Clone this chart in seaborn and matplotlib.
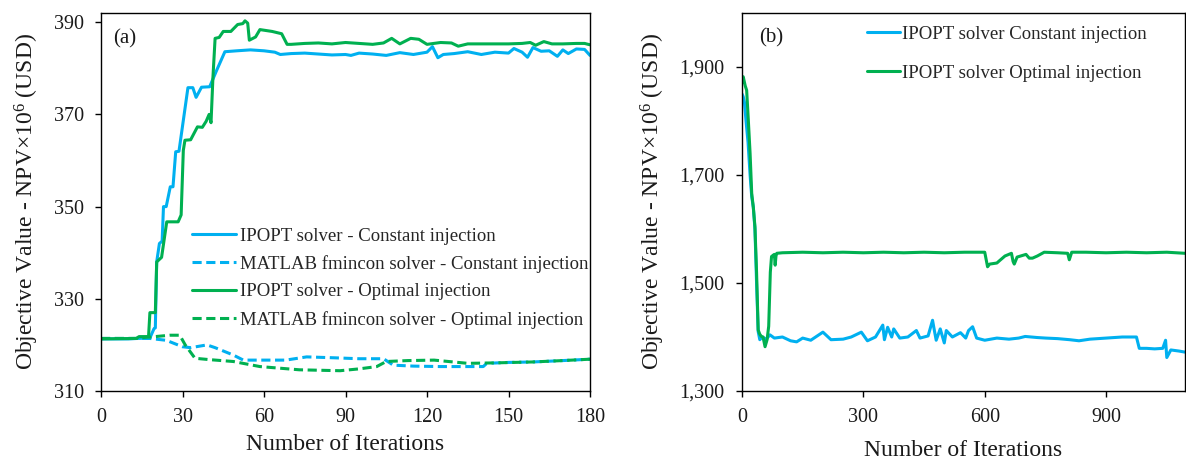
import matplotlib
matplotlib.use("Agg")
import matplotlib.pyplot as plt
import matplotlib.ticker as mticker
import seaborn as sns

# ---------------- data: panel (a) ----------------
a_ipopt_const_it = [0, 10, 17, 18, 19.5, 20, 20.5, 21.5, 22.5, 23, 24, 25.5, 26.5, 27.5, 28.7, 32,
                    33.8, 35, 37, 40, 42.6, 45.6, 50, 55, 60, 64, 66, 70, 75, 80, 85, 90, 92, 95,
                    100, 105, 110, 115, 120, 122, 124, 126, 130, 135, 140, 145, 150, 152, 155,
                    157, 159, 162, 165, 168, 170, 172, 175, 178, 180]
a_ipopt_const_v = [321.3, 321.3, 321.5, 321.5, 323.5, 323.7, 338.0, 342.0, 342.5, 350.0, 350.0,
                   354.3, 354.3, 361.9, 362.0, 375.8, 375.8, 373.7, 375.9, 376.0, 379.6, 383.6,
                   383.8, 384.0, 383.8, 383.5, 383.0, 383.2, 383.3, 383.1, 382.9, 383.0, 382.8,
                   383.3, 383.1, 382.8, 383.4, 383.0, 383.5, 384.7, 382.3, 383.0, 383.2, 383.6,
                   383.0, 383.5, 383.3, 384.3, 383.5, 382.4, 384.5, 383.7, 383.8, 382.6, 384.0,
                   383.2, 384.2, 384.1, 382.8]

a_fmincon_const_it = [0, 10, 18, 24, 30, 33, 36, 39, 42, 48.7, 52.4, 60, 68, 75.7, 86, 95, 104,
                      107.6, 115, 125, 140.7, 142, 150, 159, 170, 180]
a_fmincon_const_v = [321.4, 321.4, 321.4, 321.0, 319.6, 319.4, 319.7, 320.0, 319.4, 317.8, 316.7,
                     316.7, 316.7, 317.4, 317.2, 317.0, 317.0, 315.6, 315.4, 315.3, 315.3, 316.0,
                     316.2, 316.3, 316.6, 316.9]

a_ipopt_opt_it = [0, 13, 14, 17.5, 18, 20, 20.5, 22.3, 24.2, 28.4, 29.5, 30.3, 30.9, 33, 35.5,
                  37.3, 38.7, 39.8, 40.5, 41.2, 42, 43.5, 45, 47.8, 50.3, 52.2, 53, 54, 54.6, 56.9,
                  58.5, 63, 66.5, 68.5, 70, 75, 80, 85, 90, 95, 100, 104, 107, 110, 114, 117, 120,
                  125, 129, 131.5, 135, 140, 145, 150, 155, 158, 160, 163, 166, 170, 175, 178, 180]
a_ipopt_opt_v = [321.3, 321.4, 321.8, 321.8, 327.0, 327.0, 338.0, 339.0, 346.7, 346.7, 348.2,
                 362.2, 364.4, 364.5, 367.3, 367.2, 368.5, 370.0, 368.2, 378.0, 386.5, 386.7,
                 388.0, 388.0, 389.5, 389.7, 390.3, 389.8, 386.1, 386.8, 388.4, 388.0, 387.5,
                 385.2, 385.2, 385.4, 385.5, 385.3, 385.6, 385.4, 385.2, 385.5, 386.5, 385.3,
                 386.5, 386.3, 385.2, 385.6, 385.5, 384.8, 385.3, 385.3, 385.3, 385.3, 385.4,
                 385.6, 385.0, 385.8, 385.3, 385.3, 385.4, 385.4, 385.1]

a_fmincon_opt_it = [0, 13, 17, 18, 25.4, 29, 31, 34.6, 40, 48.7, 58.5, 73, 88, 95, 101.5, 105,
                    113, 122.6, 135, 145, 159, 170, 180]
a_fmincon_opt_v = [321.4, 321.4, 321.7, 321.7, 322.1, 322.1, 320.0, 317.1, 316.8, 316.4, 315.3,
                   314.6, 314.4, 314.8, 315.3, 316.4, 316.6, 316.7, 316.0, 316.1, 316.3, 316.6,
                   316.9]

# ---------------- data: panel (b) ----------------
b_const_it = [0, 3, 6, 10, 15, 20, 24, 28, 32, 36, 40, 44, 50, 55, 60, 69, 80, 100, 120, 135, 150,
              170, 200, 220, 250, 270, 295, 310, 330, 348, 352, 360, 370, 375, 390, 410, 431, 440,
              460, 471, 476, 480, 490, 500, 505, 520, 540, 553, 560, 570, 580, 600, 630, 660, 684,
              700, 730, 751, 780, 810, 833, 860, 900, 940, 965, 975, 982, 1000, 1020, 1040, 1047,
              1050, 1060, 1080, 1095]
b_const_v = [1850, 1845, 1835, 1800, 1760, 1700, 1660, 1640, 1600, 1500, 1410, 1395, 1400, 1398,
             1396, 1404, 1398, 1400, 1393, 1391, 1398, 1394, 1409, 1395, 1396, 1400, 1409, 1393,
             1400, 1422, 1395, 1418, 1400, 1415, 1398, 1400, 1412, 1398, 1402, 1431, 1410, 1394,
             1415, 1389, 1412, 1400, 1408, 1398, 1412, 1419, 1398, 1394, 1398, 1396, 1398, 1401,
             1399, 1398, 1397, 1395, 1393, 1396, 1398, 1400, 1400, 1400, 1379, 1379, 1378, 1379,
             1394, 1362, 1376, 1374, 1372]

b_opt_it = [0, 3, 8, 11.5, 15.6, 20, 24, 28, 32, 36, 40, 44, 48, 52, 57, 62, 66, 70, 73, 78, 80,
            82, 84, 86, 100, 150, 200, 250, 300, 350, 400, 450, 500, 550, 600, 607, 612, 630, 636,
            650, 666, 670, 673, 680, 702, 710, 718, 730, 747, 780, 805, 809, 815, 850, 900, 950,
            1000, 1050, 1095]
b_opt_v = [1870, 1882, 1865, 1857, 1802, 1740, 1666, 1640, 1604, 1520, 1413, 1405, 1401, 1400,
           1382, 1395, 1420, 1520, 1549, 1552, 1553, 1533, 1550, 1555, 1556, 1557, 1556, 1557,
           1556, 1557, 1556, 1557, 1556, 1557, 1557, 1530, 1535, 1537, 1541, 1550, 1555, 1540,
           1535, 1548, 1553, 1546, 1546, 1550, 1557, 1556, 1555, 1543, 1557, 1557, 1556, 1557,
           1556, 1557, 1555]

a_yticks = [310, 330, 350, 370, 390]
a_xticks = [0, 30, 60, 90, 120, 150, 180]
b_yticks = [1300, 1500, 1700, 1900]
b_xticks = [0, 300, 600, 900]

BLUE = "#00B0F0"
GREEN = "#00B050"
TXT = "#1a1a1a"

sns.set_style("ticks")
plt.rcParams["font.family"] = ["Liberation Serif", "DejaVu Serif"]
plt.rcParams["mathtext.fontset"] = "custom"
plt.rcParams["mathtext.rm"] = "Liberation Serif"
plt.rcParams["mathtext.it"] = "Liberation Serif:italic"

fig = plt.figure(figsize=(11.86, 4.68), dpi=100)
ax1 = fig.add_axes([101 / 1186, 1 - 391 / 468, 489 / 1186, 378 / 468])
ax2 = fig.add_axes([742 / 1186, 1 - 391 / 468, 443 / 1186, 378 / 468])

LW = 2.2
DASH = (0, (3.0, 1.5))

sns.lineplot(x=a_ipopt_const_it, y=a_ipopt_const_v, ax=ax1, color=BLUE, lw=LW,
             estimator=None, sort=False, label="IPOPT solver - Constant injection")
sns.lineplot(x=a_fmincon_const_it, y=a_fmincon_const_v, ax=ax1, color=BLUE, lw=LW,
             linestyle=DASH, estimator=None, sort=False,
             label="MATLAB fmincon solver - Constant injection")
sns.lineplot(x=a_ipopt_opt_it, y=a_ipopt_opt_v, ax=ax1, color=GREEN, lw=LW,
             estimator=None, sort=False, label="IPOPT solver - Optimal injection")
sns.lineplot(x=a_fmincon_opt_it, y=a_fmincon_opt_v, ax=ax1, color=GREEN, lw=LW,
             linestyle=DASH, estimator=None, sort=False,
             label="MATLAB fmincon solver - Optimal injection")

sns.lineplot(x=b_const_it, y=b_const_v, ax=ax2, color=BLUE, lw=LW,
             estimator=None, sort=False, label="IPOPT solver Constant injection")
sns.lineplot(x=b_opt_it, y=b_opt_v, ax=ax2, color=GREEN, lw=LW,
             estimator=None, sort=False, label="IPOPT solver Optimal injection")

ylabel = "Objective Value - NPV×10$^{6}$ (USD)"

for ax in (ax1, ax2):
    for s in ax.spines.values():
        s.set_visible(True)
        s.set_color("black")
        s.set_linewidth(1.0)
    ax.tick_params(direction="out", length=4.5, width=1.0, color="black",
                   labelsize=14.5, pad=8, labelcolor=TXT)
    ax.set_ylabel(ylabel, fontsize=17, labelpad=9, color=TXT)

ax1.set_xlim(0, 180)
ax1.set_ylim(310, 392)
ax1.set_xticks(a_xticks)
ax1.set_yticks(a_yticks)
ax1.set_xlabel("Number of Iterations", fontsize=17, labelpad=5, color=TXT)

ax2.set_xlim(0, 1095)
ax2.set_ylim(1300, 2000)
ax2.set_xticks(b_xticks)
ax2.set_yticks(b_yticks)
ax2.yaxis.set_major_formatter(mticker.StrMethodFormatter("{x:,.0f}"))
ax2.set_xlabel("Number of Iterations", fontsize=17, labelpad=9, color=TXT)

ax1.legend(loc="upper left", bbox_to_anchor=(0.1855, 0.432), frameon=False, fontsize=13.5,
           handlelength=2.35, handletextpad=0.2, borderpad=0, borderaxespad=0,
           labelspacing=0.55)
ax2.legend(loc="upper left", bbox_to_anchor=(0.2815, 0.966), frameon=False, fontsize=13.5,
           handlelength=1.8, handletextpad=0.1, borderpad=0, borderaxespad=0,
           labelspacing=1.15)

ax1.text(0.0245, 0.931, "(a)", transform=ax1.transAxes, fontsize=15, va="center",
         ha="left", color=TXT)
ax2.text(0.038, 0.934, "(b)", transform=ax2.transAxes, fontsize=15, va="center",
         ha="left", color=TXT)

fig.savefig("out.png", dpi=100)
